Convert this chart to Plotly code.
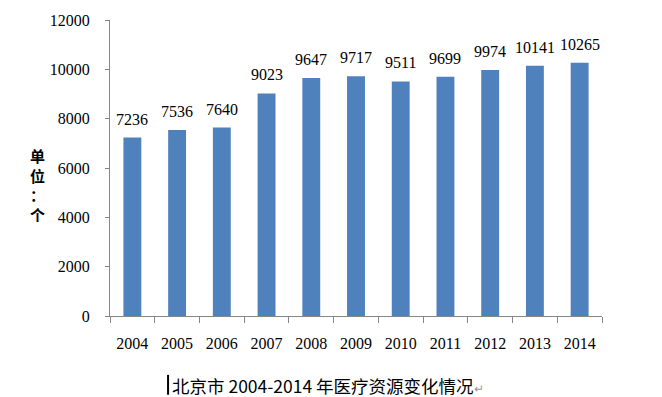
import plotly.graph_objects as go

years = ["2004", "2005", "2006", "2007", "2008", "2009", "2010", "2011", "2012", "2013", "2014"]
values = [7236, 7536, 7640, 9023, 9647, 9717, 9511, 9699, 9974, 10141, 10265]
y_ticks = [0, 2000, 4000, 6000, 8000, 10000, 12000]
y_title = "单<br>位<br>：<br>个"
caption = "北京市 2004-2014 年医疗资源变化情况"

serif = "Liberation Serif, Times New Roman, serif"
axis_col = "#868686"

fig = go.Figure(go.Bar(
    x=years, y=values,
    marker=dict(color="#4F81BD", line=dict(width=0)),
    hoverinfo="x+y",
))

# value labels, positioned by category index on the category axis
for i, v in enumerate(values):
    fig.add_annotation(
        x=i, y=v, text=str(v), xref="x", yref="y",
        xanchor="center", yanchor="bottom", yshift=8,
        showarrow=False,
        font=dict(family=serif, size=16, color="#000000"),
    )

fig.update_layout(
    width=662, height=397,
    margin=dict(l=110, r=60, t=15, b=81),
    paper_bgcolor="white", plot_bgcolor="white",
    bargap=0.6,
    showlegend=False,
    font=dict(family=serif, size=16, color="#000000"),
)
fig.update_xaxes(
    type="category",
    range=[-0.5, len(years) - 0.5],
    showline=True, linecolor=axis_col, linewidth=1,
    ticks="outside", ticklen=6, tickcolor=axis_col, tickson="boundaries",
    tickfont=dict(family=serif, size=16, color="#000000"),
    tickangle=0,
    showgrid=False, zeroline=False,
    ticklabelstandoff=13,
)
fig.update_yaxes(
    range=[0, 12000],
    tickvals=y_ticks, ticktext=[str(t) for t in y_ticks],
    showline=True, linecolor=axis_col, linewidth=1,
    ticks="outside", ticklen=4, tickcolor=axis_col,
    tickfont=dict(family=serif, size=16, color="#000000"),
    showgrid=False, zeroline=False,
    ticklabelstandoff=12,
)

fig.add_annotation(
    text="<b>" + y_title + "</b>", xref="paper", yref="paper",
    x=-0.148, y=0.442, xanchor="center", yanchor="middle",
    showarrow=False, align="center",
    font=dict(family="Noto Sans CJK SC", size=15, color="#000000"),
)
fig.add_annotation(
    text=caption + "<span style='color:#999999;font-size:12px'>↵</span>",
    xref="paper", yref="paper",
    x=0.121, y=-0.234, xanchor="left", yanchor="middle",
    showarrow=False,
    font=dict(family="Noto Sans CJK SC", size=17.5, color="#000000"),
)
fig.add_shape(
    type="line", xref="paper", yref="paper",
    x0=0.118, x1=0.118, y0=-0.266, y1=-0.199,
    line=dict(color="#000000", width=2),
)

fig.write_html(
    "out.html",
    config={"displayModeBar": False},
    post_script="document.body.style.margin='0';document.body.style.overflow='hidden';",
)
